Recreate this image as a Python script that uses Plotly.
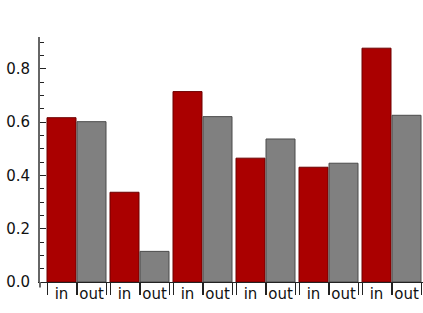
import plotly.graph_objects as go

series_names = ["in", "out"]
in_vals = [0.617, 0.337, 0.715, 0.465, 0.431, 0.878]
out_vals = [0.602, 0.115, 0.621, 0.537, 0.446, 0.626]
y_ticks = [0.0, 0.2, 0.4, 0.6, 0.8]
y_tick_text = ["0.0", "0.2", "0.4", "0.6", "0.8"]

period = 2.1
bar_w = 0.967
n = len(in_vals)
x_in = [g * period for g in range(n)]
x_out = [g * period + 1 for g in range(n)]

fig = go.Figure()
fig.add_trace(go.Bar(x=x_in, y=in_vals, width=bar_w, name=series_names[0],
                     marker=dict(color="#aa0000", line=dict(color="#6e0000", width=1))))
fig.add_trace(go.Bar(x=x_out, y=out_vals, width=bar_w, name=series_names[1],
                     marker=dict(color="#808080", line=dict(color="#4a4a4a", width=1))))

centers = []
texts = []
edges = []
for a, b in zip(x_in, x_out):
    centers += [a, b]
    texts += [series_names[0], series_names[1]]
    edges += [a - bar_w / 2, a + bar_w / 2, b - bar_w / 2, b + bar_w / 2]

fig.add_trace(go.Scatter(x=[edges[0]], y=[0], xaxis="x2", mode="markers",
                         marker=dict(opacity=0), showlegend=False, hoverinfo="skip"))

xr = [-0.717, 12.05]
fig.update_layout(
    width=423, height=313,
    margin=dict(l=40, r=0, t=37, b=31),
    paper_bgcolor="white", plot_bgcolor="white",
    showlegend=False,
    font=dict(family="DejaVu Sans, sans-serif", size=15, color="#111111"),
    xaxis=dict(range=xr, tickvals=centers, ticktext=texts, ticks="outside", ticklen=0,
               tickcolor="rgba(0,0,0,0)", showgrid=False, zeroline=False, automargin=False,
               ticklabelstandoff=-2,
               showline=True, linecolor="#222222", linewidth=1, tickfont=dict(size=15)),
    xaxis2=dict(range=xr, overlaying="x", side="bottom", anchor="y", tickvals=edges,
                showticklabels=False, ticks="outside", ticklen=12, tickcolor="#222222",
                tickwidth=1, showgrid=False, zeroline=False, showline=False, automargin=False),
    yaxis=dict(range=[0, 0.92], tickvals=y_ticks, ticktext=y_tick_text, ticks="inside",
               ticklen=6, tickcolor="#222222", showgrid=False, zeroline=False,
               showline=True, linecolor="#666666", linewidth=2, automargin=False,
               ticklabelstandoff=5, tickfont=dict(size=15),
               minor=dict(ticks="inside", dtick=0.05, ticklen=4, tickcolor="#222222")),
    shapes=[dict(type="line", xref="paper", yref="paper", x0=0, x1=0, y0=0, y1=-0.022,
                 line=dict(color="#666666", width=2))],
)

fig.write_html("out.html", config={"displayModeBar": False},
               post_script="document.body.style.margin='0';document.body.style.overflow='hidden';")
